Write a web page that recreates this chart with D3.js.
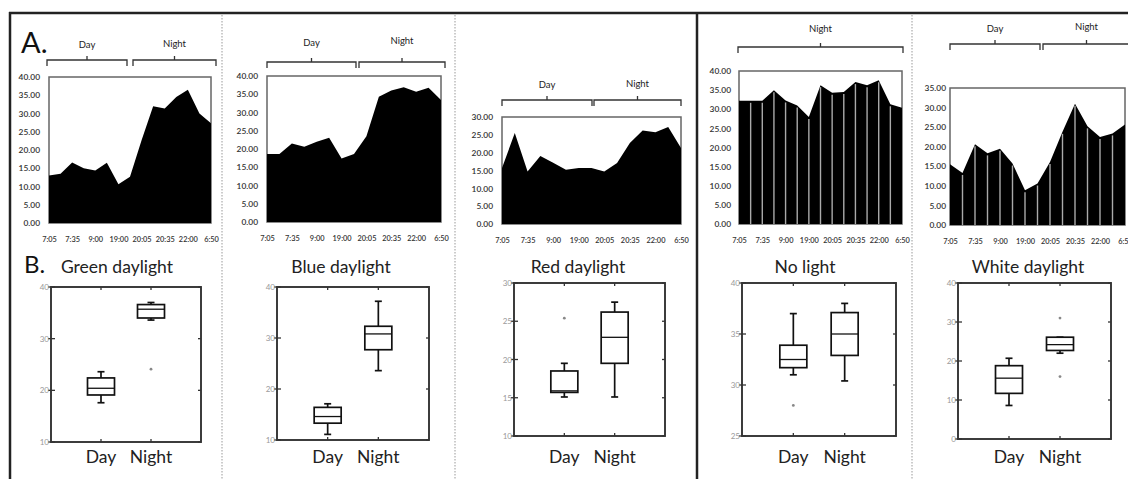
<!DOCTYPE html>
<html>
<head>
<meta charset="utf-8">
<script src="https://cdn.jsdelivr.net/npm/d3@7/dist/d3.min.js"></script>
<style>
  body { margin: 0; background: #fff; }
  svg { display: block; font-family: Lato, "Open Sans", sans-serif; }
</style>
</head>
<body>
<svg id="chart" width="1128" height="479"></svg>
<script>
// time labels, shown on every second sample
const timeLabels = ["7:05", "7:35", "9:00", "19:00", "20:05", "20:35", "22:00", "6:50"];

// panel A: temperature profiles (15 samples each)
const greenTemp = [13.0, 13.5, 16.6, 15.0, 14.4, 16.5, 10.6, 12.7, 22.7, 32.0, 31.4, 34.5, 36.5, 30.0, 27.3];
const blueTemp = [18.6, 18.6, 21.5, 20.6, 22.0, 23.1, 17.4, 18.6, 23.5, 34.3, 36.0, 36.9, 35.7, 36.8, 33.4];
const redTemp = [15.7, 25.5, 14.7, 19.1, 17.2, 15.2, 15.7, 15.7, 14.7, 17.1, 22.7, 26.2, 25.7, 27.2, 21.3];
const noLightTemp = [32.2, 32.2, 32.2, 35.0, 32.3, 31.0, 28.0, 36.3, 34.3, 34.5, 37.1, 36.3, 37.6, 31.3, 30.4];
const whiteTemp = [15.5, 13.3, 20.6, 18.3, 19.5, 15.7, 8.9, 10.6, 16.1, 23.8, 31.0, 25.2, 22.5, 23.4, 25.7];

// panel B: box stats [low whisker, q1, median, q3, high whisker]
const groups = ["Day", "Night"];
const greenBox = [[17.6, 19.1, 20.4, 22.4, 23.6], [33.6, 34.0, 35.7, 36.6, 37.0]];
const greenOut = [[], [24.1]];
const blueBox = [[11.1, 13.3, 14.6, 16.4, 17.1], [23.6, 27.7, 30.8, 32.3, 37.2]];
const blueOut = [[], []];
const redBox = [[15.1, 15.7, 15.9, 18.5, 19.5], [15.1, 19.5, 22.9, 26.2, 27.5]];
const redOut = [[25.4], []];
const noLightBox = [[31.0, 31.7, 32.5, 33.9, 37.0], [30.4, 32.9, 35.0, 37.1, 38.0]];
const noLightOut = [[28.0], []];
const whiteBox = [[8.6, 11.7, 15.6, 18.8, 20.7], [22.0, 22.7, 24.2, 26.1, 26.1]];
const whiteOut = [[], [31.0, 16.0]];

const titles = ["Green daylight", "Blue daylight", "Red daylight", "No light", "White daylight"];

const svg = d3.select("#chart");

// frame and dividers
svg.append("line").attr("x1", 9).attr("x2", 1128).attr("y1", 13).attr("y2", 13)
    .attr("stroke", "#222").attr("stroke-width", 2.5);
svg.append("line").attr("x1", 10).attr("x2", 10).attr("y1", 12).attr("y2", 479)
    .attr("stroke", "#222").attr("stroke-width", 2.5);
svg.append("line").attr("x1", 697).attr("x2", 697).attr("y1", 12).attr("y2", 479)
    .attr("stroke", "#222").attr("stroke-width", 2.5);
[222, 455, 912].forEach(x => {
    svg.append("line").attr("x1", x).attr("x2", x).attr("y1", 15).attr("y2", 479)
        .attr("stroke", "#999").attr("stroke-width", 1).attr("stroke-dasharray", "1.5,1.5");
});

svg.append("text").attr("x", 21).attr("y", 53).attr("font-size", 29).attr("fill", "#111").text("A.");
svg.append("text").attr("x", 24).attr("y", 273).attr("font-size", 24).attr("fill", "#111").text("B.");

function bracket(g, x0, x1, y, label, labelY) {
    const xm = (x0 + x1) / 2;
    g.append("path")
        .attr("d", `M${x0},${y + 6}L${x0},${y}L${x1},${y}L${x1},${y + 6}M${xm},${y}L${xm},${y - 4}`)
        .attr("fill", "none").attr("stroke", "#333").attr("stroke-width", 1.3);
    g.append("text").attr("x", xm).attr("y", labelY).attr("text-anchor", "middle")
        .attr("font-size", 9.5).attr("fill", "#222").text(label);
}

function areaPanel(cfg) {
    const g = svg.append("g");
    const x = d3.scaleLinear().domain([0, cfg.data.length - 1]).range([cfg.x0, cfg.x1]);
    const y = d3.scaleLinear().domain([0, cfg.yMax]).range([cfg.yBot, cfg.yTop]);

    g.append("rect").attr("x", cfg.x0).attr("y", y(cfg.yMax))
        .attr("width", cfg.x1 - cfg.x0).attr("height", cfg.yBot - y(cfg.yMax))
        .attr("fill", "none").attr("stroke", "#666").attr("stroke-width", 1.5);

    const area = d3.area().x((d, i) => x(i)).y0(y(0)).y1(d => y(d));
    g.append("path").datum(cfg.data).attr("d", area).attr("fill", "#000");

    if (cfg.stripes) {
        g.selectAll("line.stripe").data(cfg.data.slice(1, -1)).join("line")
            .attr("class", "stripe")
            .attr("x1", (d, i) => x(i + 1)).attr("x2", (d, i) => x(i + 1))
            .attr("y1", y(0)).attr("y2", d => y(d) + 2)
            .attr("stroke", "#aaa").attr("stroke-width", 1.4);
    }

    const yAxis = d3.axisLeft(y).tickValues(d3.range(0, cfg.yMax + 0.1, 5))
        .tickFormat(d3.format(".2f")).tickSize(0).tickPadding(cfg.pad);
    g.append("g").attr("transform", `translate(${cfg.x0},0)`).call(yAxis)
        .call(a => a.select(".domain").remove())
        .selectAll("text").attr("font-size", 8.4).attr("font-weight", 600).attr("fill", "#333")
        .attr("font-family", "Lato, sans-serif");

    const xAxis = d3.axisBottom(x).tickValues(d3.range(0, cfg.data.length, 2))
        .tickFormat(i => timeLabels[i / 2]).tickSize(0).tickPadding(14);
    g.append("g").attr("transform", `translate(0,${cfg.yBot})`).call(xAxis)
        .call(a => a.select(".domain").remove())
        .selectAll("text").attr("font-size", 7.4).attr("font-weight", 600).attr("fill", "#333")
        .attr("font-family", "Lato, sans-serif");

    cfg.brackets.forEach(b => bracket(g, b[0], b[1], b[2], b[3], b[4]));
}

areaPanel({ data: greenTemp, x0: 49, x1: 211, yTop: 77, yBot: 223, yMax: 40, pad: 9, stripes: false,
    brackets: [[47, 127, 60, "Day", 48], [133, 216, 60, "Night", 47]] });
areaPanel({ data: blueTemp, x0: 267, x1: 441, yTop: 76, yBot: 222, yMax: 40, pad: 9, stripes: false,
    brackets: [[267, 356, 62, "Day", 46], [359, 445, 62, "Night", 44]] });
areaPanel({ data: redTemp, x0: 502, x1: 681, yTop: 117, yBot: 224, yMax: 30, pad: 9, stripes: false,
    brackets: [[502, 592, 100, "Day", 88], [594, 681, 100, "Night", 87]] });
areaPanel({ data: noLightTemp, x0: 739, x1: 902, yTop: 71, yBot: 224, yMax: 40, pad: 8, stripes: true,
    brackets: [[738, 903, 47, "Night", 32]] });
areaPanel({ data: whiteTemp, x0: 950, x1: 1125, yTop: 88, yBot: 225, yMax: 35, pad: 4, stripes: true,
    brackets: [[950, 1040, 44, "Day", 32], [1043, 1130, 44, "Night", 30]] });

function boxPanel(cfg) {
    const g = svg.append("g");
    const x = d3.scalePoint().domain(groups).range([cfg.x0, cfg.x1]).padding(1);
    const y = d3.scaleLinear().domain(cfg.domain).range([cfg.y1, cfg.y0]);
    const ticks = d3.range(cfg.domain[0], cfg.domain[1] + 0.1, cfg.step);

    g.append("rect").attr("x", cfg.x0).attr("y", cfg.y0)
        .attr("width", cfg.x1 - cfg.x0).attr("height", cfg.y1 - cfg.y0)
        .attr("fill", "none").attr("stroke", "#333").attr("stroke-width", 1.9);

    // inner ticks on every side
    g.selectAll("line.ly").data(ticks).join("line")
        .attr("x1", cfg.x0 - 3).attr("x2", cfg.x0 + 4).attr("y1", d => y(d)).attr("y2", d => y(d))
        .attr("stroke", "#333").attr("stroke-width", 1.3);
    g.selectAll("line.ry").data(ticks).join("line")
        .attr("x1", cfg.x1 - 3).attr("x2", cfg.x1).attr("y1", d => y(d)).attr("y2", d => y(d))
        .attr("stroke", "#333").attr("stroke-width", 1.3);
    g.selectAll("line.tx").data(groups).join("line")
        .attr("x1", d => x(d)).attr("x2", d => x(d)).attr("y1", cfg.y0).attr("y2", cfg.y0 + 3)
        .attr("stroke", "#333").attr("stroke-width", 1.3);
    g.selectAll("line.bx").data(groups).join("line")
        .attr("x1", d => x(d)).attr("x2", d => x(d)).attr("y1", cfg.y1).attr("y2", cfg.y1 - 3)
        .attr("stroke", "#333").attr("stroke-width", 1.3);

    g.selectAll("text.yl").data(ticks).join("text")
        .attr("x", cfg.x0 - 2).attr("y", d => y(d) + 3).attr("text-anchor", "end")
        .attr("font-size", 8).attr("fill", "#999").text(d => d);

    const bw = 27, cap = 7;
    groups.forEach((grp, i) => {
        const s = cfg.box[i], cx = x(grp);
        const bg = g.append("g").attr("stroke", "#111").attr("stroke-width", 1.7).attr("fill", "none");
        bg.append("line").attr("x1", cx).attr("x2", cx).attr("y1", y(s[0])).attr("y2", y(s[1]));
        bg.append("line").attr("x1", cx).attr("x2", cx).attr("y1", y(s[3])).attr("y2", y(s[4]));
        bg.append("line").attr("x1", cx - cap / 2).attr("x2", cx + cap / 2).attr("y1", y(s[0])).attr("y2", y(s[0]));
        bg.append("line").attr("x1", cx - cap / 2).attr("x2", cx + cap / 2).attr("y1", y(s[4])).attr("y2", y(s[4]));
        bg.append("rect").attr("x", cx - bw / 2).attr("y", y(s[3])).attr("width", bw)
            .attr("height", y(s[1]) - y(s[3])).attr("fill", "#fff");
        bg.append("line").attr("x1", cx - bw / 2).attr("x2", cx + bw / 2).attr("y1", y(s[2])).attr("y2", y(s[2]))
            .attr("stroke-width", 1.3);
        g.selectAll(null).data(cfg.out[i]).join("circle")
            .attr("cx", cx).attr("cy", d => y(d)).attr("r", 1.4).attr("fill", "#888");
    });

    g.selectAll("text.xl").data(groups).join("text")
        .attr("x", d => x(d)).attr("y", 463).attr("text-anchor", "middle")
        .attr("font-size", 17.5).attr("fill", "#222").text(d => d);

    g.append("text").attr("x", cfg.tx).attr("y", 273).attr("text-anchor", "middle")
        .attr("font-size", 17.5).attr("fill", "#222").text(cfg.title);
}

boxPanel({ box: greenBox, out: greenOut, domain: [10, 40], step: 10, x0: 51, x1: 201, y0: 287, y1: 442, tx: 117, title: titles[0] });
boxPanel({ box: blueBox, out: blueOut, domain: [10, 40], step: 10, x0: 277, x1: 429, y0: 287, y1: 440, tx: 341, title: titles[1] });
boxPanel({ box: redBox, out: redOut, domain: [10, 30], step: 5, x0: 514, x1: 665, y0: 283, y1: 436, tx: 578, title: titles[2] });
boxPanel({ box: noLightBox, out: noLightOut, domain: [25, 40], step: 5, x0: 742, x1: 896, y0: 283, y1: 436, tx: 805, title: titles[3] });
boxPanel({ box: whiteBox, out: whiteOut, domain: [0, 40], step: 10, x0: 958, x1: 1111, y0: 283, y1: 439, tx: 1028, title: titles[4] });
</script>
</body>
</html>
